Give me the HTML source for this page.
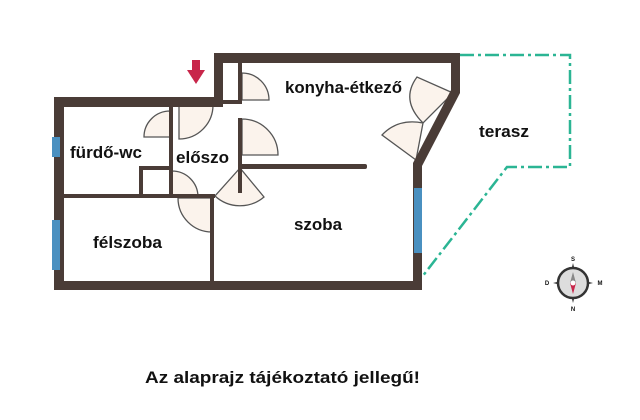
<!DOCTYPE html>
<html><head><meta charset="utf-8"><style>
html,body{margin:0;padding:0;background:#fff;}
svg{display:block}
text{font-family:"Liberation Sans",sans-serif;font-weight:bold;fill:#111}
</style></head><body>
<svg width="640" height="420" viewBox="0 0 640 420" xmlns="http://www.w3.org/2000/svg">
<polyline points="460,55 570,55 570,167 507,167 422,277" fill="none" stroke="#2bb594" stroke-width="2.5" stroke-dasharray="14,4,3,4"/>
<g fill="#fbf3ec" stroke="#555" stroke-width="1.3">
<path d="M179,105 L179,139 A34,34 0 0 0 213,105 Z"/>
<path d="M170,137 L144,137 A26,26 0 0 1 170,111 Z"/>
<path d="M242,100 L242,73 A27,27 0 0 1 269,100 Z"/>
<path d="M242,155 L242,119 A36,36 0 0 1 278,155 Z"/>
<path d="M240,168 L215,196 A37,37 0 0 0 264,197 Z"/>
<path d="M172,197 L172,171 A26,26 0 0 1 198,197 Z"/>
<path d="M212,198 L178,198 A34,34 0 0 0 212,232 Z"/>
<path d="M453,93 L417,77 Q400,100 423,123 Z"/>
<path d="M416,160 L382,135 Q398,118 423,123 Z"/>
</g>
<g fill="#4a3c37">
<rect x="214" y="53" width="246" height="10"/>
<rect x="214" y="53" width="9" height="54"/>
<rect x="451" y="53" width="9" height="40"/>
<polygon points="451,90 460,93 422,166 413,163"/>
<rect x="413" y="163" width="9" height="127"/>
<rect x="54" y="97" width="169" height="10"/>
<rect x="54" y="97" width="10" height="193"/>
<rect x="54" y="281" width="368" height="9"/>
<rect x="238" y="63" width="4" height="37"/>
<rect x="223" y="100" width="19" height="4"/>
<rect x="238" y="118" width="4" height="75"/>
<rect x="238" y="164" width="129" height="5" rx="2"/>
<rect x="169" y="107" width="4" height="90"/>
<rect x="64" y="194" width="151" height="4"/>
<rect x="139" y="166" width="4" height="30"/>
<rect x="139" y="166" width="32" height="4"/>
<rect x="210" y="198" width="4" height="84"/>
</g>
<line x1="453" y1="93" x2="416" y2="163" stroke="#4a3c37" stroke-width="3"/>
<g fill="#4a90c0">
<rect x="52" y="137" width="8" height="20"/>
<rect x="52" y="220" width="8" height="50"/>
<rect x="414" y="188" width="8" height="65"/>
</g>
<polygon points="192,60 200,60 200,70 205,70 196,84 187,70 192,70" fill="#c8264a"/>
<g transform="translate(573,283)">
<polygon points="0,-20 4,-4 20,0 4,4 0,20 -4,4 -20,0 -4,-4" fill="#333"/>
<circle r="15" fill="#ddd" stroke="#333" stroke-width="2.5"/>
<polygon points="0,-11 3,0 -3,0" fill="#888"/>
<polygon points="0,11 3,0 -3,0" fill="#c8264a"/>
<circle r="2.5" fill="#fff"/>
<text x="0" y="-22" font-size="6" text-anchor="middle" font-weight="normal">S</text>
<text x="0" y="28" font-size="6" text-anchor="middle" font-weight="normal">N</text>
<text x="-26" y="2" font-size="6" text-anchor="middle" font-weight="normal">D</text>
<text x="27" y="2" font-size="6" text-anchor="middle" font-weight="normal">M</text>
</g>
<text x="70" y="158" font-size="16.5" textLength="72" lengthAdjust="spacingAndGlyphs">fürdő-wc</text>
<text x="176" y="163" font-size="16.5" textLength="53" lengthAdjust="spacingAndGlyphs">előszo</text>
<text x="285" y="93" font-size="16.5" textLength="117" lengthAdjust="spacingAndGlyphs">konyha-étkező</text>
<text x="479" y="137" font-size="16.5" textLength="50" lengthAdjust="spacingAndGlyphs">terasz</text>
<text x="294" y="230" font-size="16.5" textLength="48" lengthAdjust="spacingAndGlyphs">szoba</text>
<text x="93" y="248" font-size="16.5" textLength="69" lengthAdjust="spacingAndGlyphs">félszoba</text>
<text x="145" y="383" font-size="17" textLength="275" lengthAdjust="spacingAndGlyphs">Az alaprajz tájékoztató jellegű!</text>
</svg>
</body></html>
